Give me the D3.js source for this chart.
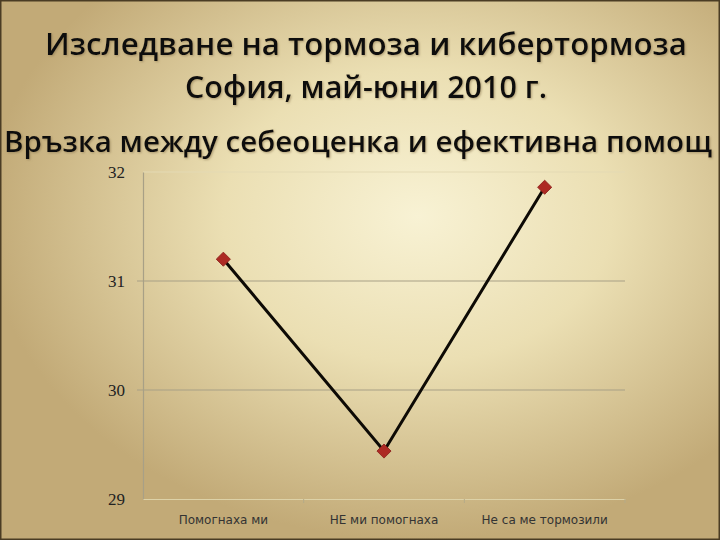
<!DOCTYPE html>
<html>
<head>
<meta charset="utf-8">
<script src="https://cdn.jsdelivr.net/npm/d3@7"></script>
<style>
  html, body { margin: 0; padding: 0; background: #c9b586; }
  svg { display: block; }
</style>
</head>
<body>
<div id="chart"></div>
<script>
const categories = ["Помогнаха ми", "НЕ ми помогнаха", "Не са ме тормозили"];
const selfEsteem = [31.2, 29.44, 31.86];
const yTicks = [29, 30, 31, 32];
const titleLines = ["Изследване на тормоза и кибертормоза", "София, май-юни 2010 г."];
const subtitle = "Връзка между себеоценка и ефективна помощ";

(function() {
    const width = 720, height = 540;
    const marginLeft = 143, marginRight = 95, marginTop = 172, marginBottom = 41;

    const svg = d3.select("#chart").append("svg")
        .attr("width", width)
        .attr("height", height)
        .attr("viewBox", [0, 0, width, height]);

    const defs = svg.append("defs");
    const grad = defs.append("radialGradient")
        .attr("id", "bg")
        .attr("cx", "58%").attr("cy", "40%").attr("r", "60%");
    grad.append("stop").attr("offset", "0%").attr("stop-color", "#f8f2d4");
    grad.append("stop").attr("offset", "45%").attr("stop-color", "#ebdfb3");
    grad.append("stop").attr("offset", "100%").attr("stop-color", "#c2aa77");

    const shadow = defs.append("filter").attr("id", "shadow");
    shadow.append("feDropShadow")
        .attr("dx", 1).attr("dy", 1).attr("stdDeviation", 0.8)
        .attr("flood-color", "#8a7650").attr("flood-opacity", 0.6);

    svg.append("rect")
        .attr("width", width).attr("height", height)
        .attr("fill", "url(#bg)")
        .attr("stroke", "#4a3c24").attr("stroke-width", 3);

    // titles
    const titleG = svg.append("g")
        .attr("font-family", "'Open Sans', 'Noto Sans', sans-serif")
        .attr("font-weight", 600)
        .attr("fill", "#111")
        .attr("filter", "url(#shadow)")
        .attr("text-anchor", "middle");
    titleG.append("text").attr("x", 366).attr("y", 55)
        .attr("font-size", 31).attr("textLength", 642).attr("lengthAdjust", "spacingAndGlyphs")
        .text(titleLines[0]);
    titleG.append("text").attr("x", 366).attr("y", 98)
        .attr("font-size", 31).attr("textLength", 362).attr("lengthAdjust", "spacingAndGlyphs")
        .text(titleLines[1]);
    titleG.append("text").attr("x", 358).attr("y", 152)
        .attr("font-size", 29).attr("textLength", 708).attr("lengthAdjust", "spacingAndGlyphs")
        .text(subtitle);

    const x = d3.scaleBand()
        .domain(categories)
        .range([marginLeft, width - marginRight]);
    const y = d3.scaleLinear()
        .domain([29, 32])
        .range([height - marginBottom, marginTop]);

    // gridlines
    svg.append("g")
        .selectAll("line")
        .data(yTicks.filter(d => d > 29))
        .join("line")
          .attr("x1", d => d === 32 ? marginLeft : marginLeft - 6)
          .attr("x2", width - marginRight)
          .attr("y1", d => y(d))
          .attr("y2", d => y(d))
          .attr("stroke", d => d === 32 ? "#e4dab4" : "#a8a086")
          .attr("stroke-width", 1.2);

    // y axis
    const yAxis = d3.axisLeft(y).tickValues(yTicks).tickSize(0).tickPadding(18).tickFormat(d3.format("d"));
    svg.append("g")
        .attr("transform", `translate(${marginLeft},0)`)
        .call(yAxis)
        .call(g => g.select(".domain").attr("stroke", "#a8a086").attr("stroke-width", 1.2))
        .call(g => g.selectAll(".tick text")
            .attr("font-family", "'Liberation Serif', serif")
            .attr("font-size", 17)
            .attr("fill", "#222"));

    // x axis
    const xAxis = d3.axisBottom(x).tickSize(0).tickPadding(16);
    svg.append("g")
        .attr("transform", `translate(0,${height - marginBottom})`)
        .call(xAxis)
        .call(g => g.select(".domain").attr("stroke", "#ddd2a8").attr("stroke-width", 1))
        .call(g => g.selectAll(".tick text")
            .attr("font-family", "'DejaVu Sans', sans-serif")
            .attr("font-size", 12)
            .attr("fill", "#333"));

    // category separators
    svg.append("g")
        .selectAll("line")
        .data(categories)
        .join("line")
          .attr("x1", d => x(d) + x.bandwidth())
          .attr("x2", d => x(d) + x.bandwidth())
          .attr("y1", height - marginBottom)
          .attr("y2", height - marginBottom + 4)
          .attr("stroke", "#b5aa88");

    // line
    const line = d3.line()
        .x((d, i) => x(categories[i]) + x.bandwidth() / 2)
        .y(d => y(d));
    svg.append("path")
        .datum(selfEsteem)
        .attr("fill", "none")
        .attr("stroke", "#0d0a05")
        .attr("stroke-width", 3)
        .attr("d", line);

    // markers
    svg.append("g")
        .selectAll("path")
        .data(selfEsteem)
        .join("path")
          .attr("d", d3.symbol(d3.symbolSquare, 100))
          .attr("transform", (d, i) => `translate(${x(categories[i]) + x.bandwidth() / 2},${y(d)}) rotate(45)`)
          .attr("fill", "#ad2a24")
          .attr("stroke", "#8a1f1a")
          .attr("stroke-width", 0.8);
})();
</script>
</body>
</html>
